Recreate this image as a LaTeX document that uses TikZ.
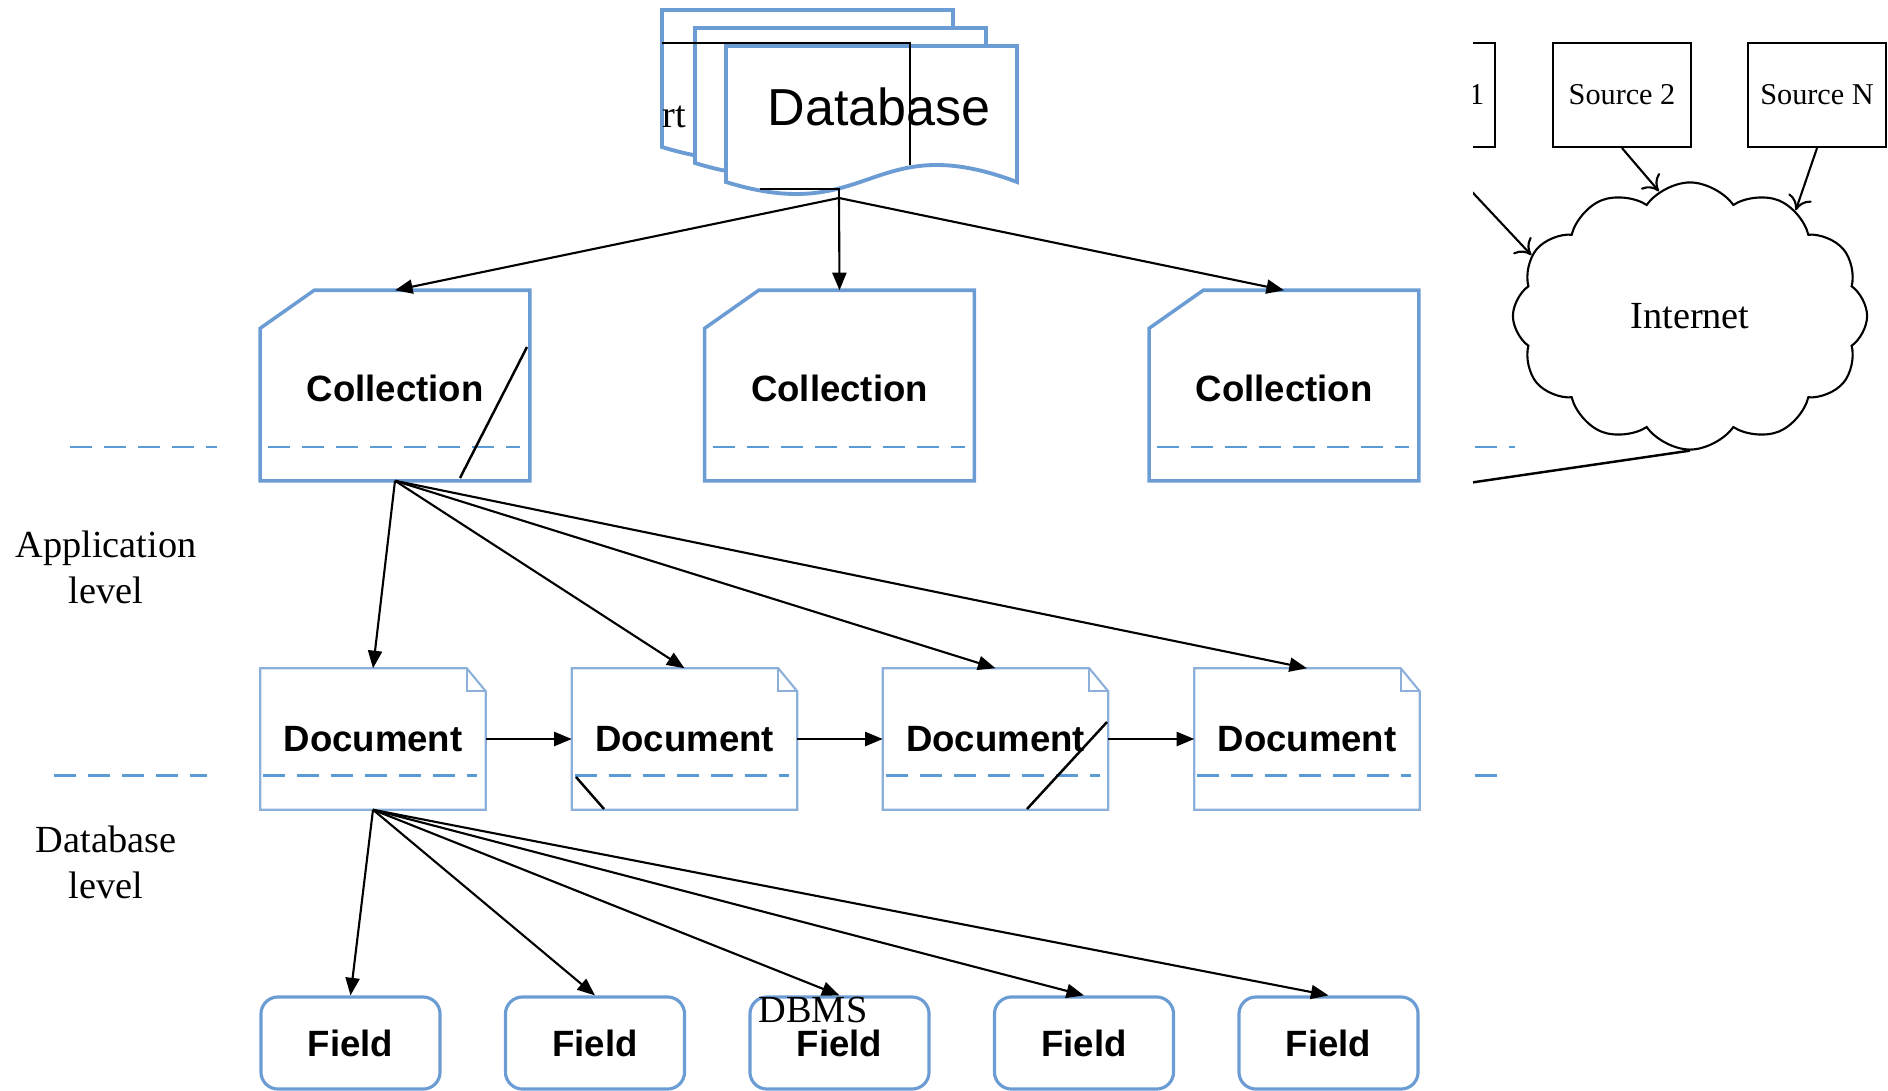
\documentclass[tikz,border=0pt]{standalone}
\usepackage{fontspec}
\setmainfont{Liberation Serif}
\setsansfont{Liberation Sans}
\usetikzlibrary{arrows.meta,shapes.symbols}

\definecolor{boxblue}{RGB}{108,156,212}
\definecolor{docblue}{RGB}{140,176,218}
\definecolor{dashblue}{RGB}{91,155,213}

% one sheet of the database stack: left, top, bottom-left y
\newcommand{\dbpage}[3]{%
  \draw[pageline] (#1,#3) -- (#1,#2) -- (#1+291,#2) -- (#1+291,#3)
    .. controls (#1+145,#3-55) and (#1+145,#3+45) .. (#1,#3) -- cycle;}

\begin{document}
\begin{tikzpicture}[x=0.01cm,y=-0.01cm,>={Triangle[length=5pt,width=4pt]}]
        \tikzstyle{pageline}=[draw=boxblue,line width=1.1pt,fill=white]
        \tikzstyle{coll}=[minimum width=2.68cm,minimum height=1.89cm,inner sep=0pt,text height=0.32cm,text depth=0pt,font=\sffamily\bfseries\fontsize{10.4}{12}\selectfont]
        \tikzstyle{collline}=[draw=boxblue,line width=1pt]
        \tikzstyle{doc}=[minimum width=2.24cm,minimum height=1.40cm,inner sep=0pt,font=\sffamily\bfseries\fontsize{10.4}{12}\selectfont]
        \tikzstyle{docline}=[draw=docblue,line width=0.6pt]
        \tikzstyle{field}=[draw=boxblue,line width=0.9pt,rounded corners=0.17cm,minimum width=1.79cm,minimum height=0.92cm,inner sep=0pt,font=\sffamily\bfseries\fontsize{10.4}{12}\selectfont]
        \tikzstyle{sepline}=[draw=dashblue,line width=0.85pt,dash pattern=on 0.22cm off 0.12cm]
        \tikzstyle{link}=[draw,->,line width=0.6pt]
        \tikzstyle{netlink}=[draw,-{To[length=4pt,width=7pt]},line width=0.6pt]
        \tikzstyle{stray}=[draw,line width=0.7pt]
        \tikzstyle{lvl}=[inner sep=0pt,align=center,font=\fontsize{10.9}{13.1}\selectfont]
        \tikzstyle{source}=[draw,line width=0.6pt,minimum width=1.38cm,minimum height=1.04cm,inner sep=0pt,font=\fontsize{8.6}{10}\selectfont]
        \useasboundingbox (0,0) rectangle (1888,1091);

        % database stack
        \dbpage{662}{10}{147}
        \node[lvl] (rttext) at (674,117) {rt};
        \dbpage{695}{28}{163}
        \dbpage{726}{46}{182}
        \node[inner sep=0pt,font=\sffamily\fontsize{14.8}{17}\selectfont] (dbname) at (879,107) {Database};
        \coordinate (dbbot) at (839,198);
        \path[stray] (662,43) -| (910,165);
        \path[stray] (760,189) -| (dbbot);

        % collections
        \foreach \i/\x in {1/395,2/839.5,3/1284}{
          \node[coll] (col\i) at (\x,385.5) {Collection};
          \draw[collline] ([yshift=-0.38cm]col\i.north west) -- ([xshift=0.54cm]col\i.north west) -- (col\i.north east) -- (col\i.south east) -- (col\i.south west) -- cycle;
          \path[sepline] (\x-127,447) -- (\x+125,447);
        }
        \path[stray] (527,347) -- (460,478);

        % documents
        \foreach \i/\x in {1/373,2/684.5,3/995.5,4/1307}{
          \node[doc] (doc\i) at (\x,739) {Document};
          \draw[docline] (doc\i.north west) -- ([xshift=-0.19cm]doc\i.north east) -- ([yshift=-0.23cm]doc\i.north east) -- (doc\i.south east) -- (doc\i.south west) -- cycle;
          \draw[docline] ([xshift=-0.19cm]doc\i.north east) |- ([yshift=-0.23cm]doc\i.north east);
          \path[sepline] (\x-110,775) -- (\x+104,775);
        }
        \path[stray] (576,777) -- (604,809);
        \path[stray] (1107,722) -- (1027,809);

        % fields
        \foreach \i/\x in {1/350.5,2/595,3/839.5,4/1084,5/1328.5}
          \node[field] (fld\i) at (\x,1043) {Field};
        \node[lvl] (dbms) at (813,1010) {DBMS};

        % connectors
        \foreach \i in {1,2,3}
          \path[link] (dbbot) -- (col\i.north);
        \foreach \i in {1,...,4}
          \path[link] (col1.south) -- (doc\i.north);
        \foreach \i/\j in {1/2,2/3,3/4}
          \path[link] (doc\i) -- (doc\j);
        \foreach \i in {1,...,5}
          \path[link] (doc1.south) -- (fld\i.north);

        % levels
        \path[sepline] (70,447) -- (217,447);
        \path[sepline] (54,775) -- (207,775);
        \path[sepline] (1475,447) -- (1515,447);
        \path[sepline] (1475,775) -- (1497,775);
        \node[lvl] (applvl) at (106,567) {Application\\level};
        \node[lvl] (dblvl) at (106,862) {Database\\level};

        % sources and internet
        \begin{scope}
          \clip (1473,0) rectangle (1888,1091);
          \node[source,minimum width=1.28cm] (src1) at (1431,95) {Source 1};
          \node[source] (src2) at (1622,95) {Source 2};
          \node[source] (srcN) at (1817,95) {Source N};
          \node[cloud,draw,line width=0.6pt,cloud puffs=12,cloud puff arc=110,cloud ignores aspect,minimum width=3.54cm,minimum height=2.67cm,inner sep=0pt,font=\fontsize{10.9}{13}\selectfont] (net) at (1690,316) {Internet};
          \path[netlink] (src1.south) -- (net.159);
          \path[netlink] (src2.south) -- (net.104);
          \path[netlink] (srcN.south) -- (net.45);
          \coordinate (dbmslink) at (1400,493);
          \path[stray] (net.south) -- (dbmslink);
        \end{scope}
\end{tikzpicture}
\end{document}
